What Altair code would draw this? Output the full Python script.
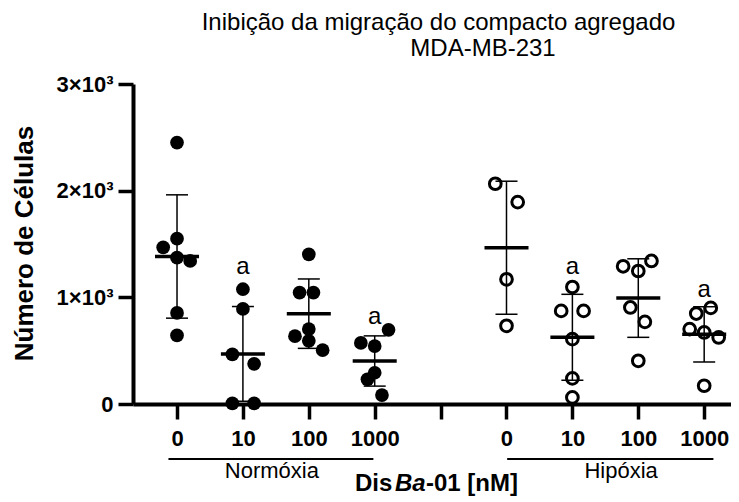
import altair as alt
import pandas as pd

FONT = "Liberation Sans"

# ---------------- data ----------------
group_pos = [0, 1, 2, 3, 5, 6, 7, 8]
condition = ["Normóxia"] * 4 + ["Hipóxia"] * 4
cells = [
    [2451, 1550, 1469, 1372, 1341, 854, 643],
    [1076, 891, 465, 377, 5, 5],
    [1403, 1045, 1045, 702, 636, 592, 505],
    [695, 573, 543, 293, 231, 84],
    [2065, 1893, 1169, 733],
    [1097, 873, 873, 608, 240, 62],
    [1341, 1291, 1247, 905, 770, 405],
    [901, 848, 702, 671, 624, 171],
]
# horizontal spread of the dots around their group (in category units)
spread = [
    [0, 0, -0.21, 0, 0.20, 0, 0],
    [0, 0, -0.16, 0.17, -0.16, 0.17],
    [0, -0.14, 0.07, 0, -0.21, 0, 0.21],
    [0.21, -0.21, 0, 0, -0.11, 0.11],
    [-0.17, 0.17, 0, 0],
    [0, -0.17, 0.17, 0, 0, 0],
    [0.2, -0.23, 0, -0.12, 0.1, 0],
    [0.1, -0.12, -0.22, 0, 0.22, 0],
]
tick_labels = ["0", "10", "100", "1000", "", "0", "10", "100", "1000"]
y_ticks = [0, 1000, 2000, 3000]

sig_pos = [1, 3, 6, 8]
sig_text = ["a", "a", "a", "a"]
sig_height = [1216, 748, 1223, 1004]

cond_names = ["Normóxia", "Hipóxia"]
cond_start = [-0.13, 5.01]
cond_end = [2.98, 8.14]
cond_label_pos = [1.44, 6.74]

title_lines = ["Inibição da migração do compacto agregado", "MDA-MB-231"]
y_title = "Número de Células"
x_title_parts = ["Dis", "Ba", "-01 [nM]"]

# ---------------- tables ----------------
rows = []
for g, (p, c) in enumerate(zip(group_pos, condition)):
    for v, s in zip(cells[g], spread[g]):
        rows.append({"pos": p, "xj": p + s, "cells": v, "cond": c})
pts = pd.DataFrame(rows)
sig_df = pd.DataFrame({"pos": sig_pos, "t": sig_text, "h": sig_height})
cond_df = pd.DataFrame({"name": cond_names, "start": cond_start, "end": cond_end, "lp": cond_label_pos})

# ---------------- scales / axes ----------------
X_DOMAIN = [-0.668, 8.407]
label_expr = " : ".join(
    f"datum.value == {i} ? '{t}'" for i, t in enumerate(tick_labels)
) + " : ''"

x_axis = alt.Axis(
    values=list(range(len(tick_labels))), labelExpr=label_expr, grid=False,
    domainColor="black", domainWidth=4, tickColor="black", tickWidth=3.5, tickSize=15,
    labelFont=FONT, labelFontSize=22, labelFontWeight="bold", labelColor="black",
    labelBaseline="alphabetic", labelPadding=26, labelFlush=False, labelOverlap=False,
)
y_axis = alt.Axis(
    values=y_ticks,
    labelExpr="datum.value == 0 ? '0' : format(datum.value / 1000, 'd') + '×10³'",
    grid=False, domainColor="black", domainWidth=4, tickColor="black", tickWidth=3.5,
    tickSize=15, labelFont=FONT, labelFontSize=22, labelFontWeight="bold",
    labelColor="black", labelPadding=5, labelFlush=False, labelOverlap=False,
)


def xenc(field):
    return alt.X(field, type="quantitative", title=None,
                 scale=alt.Scale(domain=X_DOMAIN, nice=False, zero=False), axis=x_axis)


def yenc(field):
    return alt.Y(field, type="quantitative", title=None,
                 scale=alt.Scale(domain=[0, 3000], nice=False, zero=False), axis=y_axis)


base = alt.Chart(pts)

norm_pts = base.transform_filter("datum.cond == 'Normóxia'").mark_circle(
    size=188, color="black", opacity=1
).encode(x=xenc("xj"), y=yenc("cells"))

hip_pts = base.transform_filter("datum.cond == 'Hipóxia'").mark_point(
    shape="circle", filled=False, size=137, strokeWidth=3, color="black", opacity=1
).encode(x=xenc("xj"), y=yenc("cells"))

stats = base.transform_aggregate(
    m="mean(cells)", sd="stdev(cells)", groupby=["pos"]
).transform_calculate(
    lo="datum.m - datum.sd", hi="datum.m + datum.sd",
    ml="datum.pos - 0.334", mr="datum.pos + 0.334",
    cl="datum.pos - 0.167", cr="datum.pos + 0.167",
)

mean_line = stats.mark_rule(color="black", strokeWidth=3.5).encode(
    x=xenc("ml"), x2="mr", y=yenc("m"))
err_line = stats.mark_rule(color="black", strokeWidth=1.5).encode(
    x=xenc("pos"), y=yenc("lo"), y2="hi")
cap_hi = stats.mark_rule(color="black", strokeWidth=1.5).encode(
    x=xenc("cl"), x2="cr", y=yenc("hi"))
cap_lo = stats.mark_rule(color="black", strokeWidth=1.5).encode(
    x=xenc("cl"), x2="cr", y=yenc("lo"))

sig = alt.Chart(sig_df).mark_text(
    font=FONT, fontSize=24, color="black", align="center", baseline="alphabetic"
).encode(x=xenc("pos"), y=yenc("h"), text="t:N")

cond_rule = alt.Chart(cond_df).mark_rule(color="black", strokeWidth=2).encode(
    x=xenc("start"), x2="end", y=alt.value(375))
cond_text = alt.Chart(cond_df).mark_text(
    font=FONT, fontSize=22, color="black", align="center", baseline="alphabetic"
).encode(x=xenc("lp"), y=alt.value(394), text="name:N")


def label(text, x, y, **kw):
    return alt.Chart(pd.DataFrame({"t": [text]})).mark_text(
        font=FONT, color="black", **kw
    ).encode(x=alt.value(x), y=alt.value(y), text="t:N")


t1 = label(title_lines[0], 305.5, -54, fontSize=24, align="center", baseline="alphabetic")
t2 = label(title_lines[1], 350, -28, fontSize=24, align="center", baseline="alphabetic")
yt = label(y_title, -100, 159.5, fontSize=26, fontWeight="bold", angle=270,
           align="center", baseline="alphabetic")
xt1 = label(x_title_parts[0], 222, 407, fontSize=24, fontWeight="bold",
            align="left", baseline="alphabetic")
xt2 = label(x_title_parts[1], 262, 407, fontSize=24, fontWeight="bold", fontStyle="italic",
            align="left", baseline="alphabetic")
xt3 = label(x_title_parts[2], 293, 407, fontSize=24, fontWeight="bold",
            align="left", baseline="alphabetic")

chart = alt.layer(
    norm_pts, hip_pts, err_line, cap_hi, cap_lo, mean_line, sig,
    cond_rule, cond_text, t1, t2, yt, xt1, xt2, xt3,
).properties(
    width=598, height=320,
    padding={"left": 125, "top": 76, "right": 0, "bottom": 98},
    autosize=alt.AutoSizeParams(type="none"),
).configure_view(stroke=None)

chart.save("out.html", embed_options={"renderer": "svg", "actions": False})
